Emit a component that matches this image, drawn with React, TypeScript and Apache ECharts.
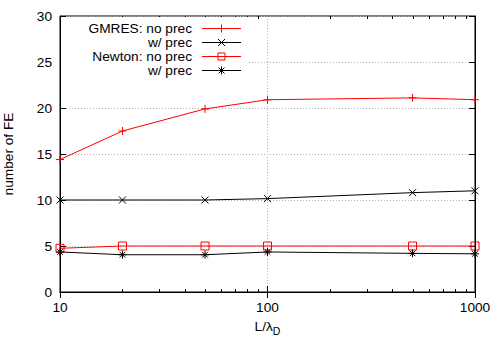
import React, { useEffect, useRef } from "react";
import * as echarts from "echarts";

const xs = [10, 20, 50, 100, 500, 1000];
const gmresNoPrec = [14.4, 17.5, 19.9, 20.9, 21.1, 20.9];
const gmresPrec = [10, 10, 10, 10.15, 10.8, 11.0];
const newtonNoPrec = [4.75, 5, 5, 5, 5, 5];
const newtonPrec = [4.35, 4.05, 4.05, 4.35, 4.2, 4.15];
const minorXs = [20, 30, 40, 50, 60, 70, 80, 90, 200, 300, 400, 500, 600, 700, 800, 900];

const seriesNames = ["GMRES: no prec", "GMRES: w/ prec", "Newton: no prec", "Newton: w/ prec"];
const legendLabels = ["GMRES: no prec", "w/ prec", "Newton: no prec", "w/ prec"];
const seriesColors = ["#ff0000", "#000000", "#ff0000", "#000000"];
const markerKinds = ["plus", "cross", "square", "star"];

const FONT = "Liberation Sans";
const FS = 13.7;
const PLUS = "path://M0,5L10,5M5,0L5,10";
const CROSS = "path://M0,0L10,10M0,10L10,0";
const STAR = "path://M0,5L10,5M5,0L5,10M1.5,1.5L8.5,8.5M1.5,8.5L8.5,1.5";

function pairs(vals: number[]) {
  return xs.map((x, i) => [x, vals[i]]);
}

function markerEls(kind: string, cx: number, cy: number, color: string) {
  const st = { stroke: color, lineWidth: 1, fill: "none" };
  const ln = (x1: number, y1: number, x2: number, y2: number) => ({ type: "line", shape: { x1, y1, x2, y2 }, style: st, z: 101 });
  const out: any[] = [];
  if (kind === "plus" || kind === "star") {
    out.push(ln(cx - 4, cy, cx + 4, cy), ln(cx, cy - 4, cx, cy + 4));
  }
  if (kind === "cross" || kind === "star") {
    const r = kind === "star" ? 3 : 3.5;
    out.push(ln(cx - r, cy - r, cx + r, cy + r), ln(cx - r, cy + r, cx + r, cy - r));
  }
  if (kind === "square") {
    out.push({ type: "rect", shape: { x: cx - 3.5, y: cy - 3.5, width: 7, height: 7 }, style: st, z: 101 });
  }
  return out;
}

export default function App() {
  const ref = useRef<HTMLDivElement>(null);
  useEffect(() => {
    if (!ref.current) return;
    const chart = echarts.init(ref.current, undefined, { renderer: "svg" });
    const mk = (name: string, vals: number[], color: string, symbol: string, size: number) => ({
      name,
      type: "line",
      data: pairs(vals),
      symbol,
      symbolSize: size,
      color,
      lineStyle: { color, width: 1 },
      itemStyle: { color: "rgba(0,0,0,0)", borderColor: color, borderWidth: 1 },
      emphasis: { disabled: true },
      z: 3,
    });

    const legendGraphics: any[] = [
      { type: "rect", shape: { x: 61, y: 17, width: 188, height: 60 }, style: { fill: "#fff" }, z: 100, silent: true },
    ];
    legendLabels.forEach((label, i) => {
      const cy = 28.5 + i * 14;
      legendGraphics.push({
        type: "text",
        x: 192,
        y: cy,
        z: 101,
        style: { text: label, fontFamily: FONT, fontSize: FS, fill: "#000", align: "right", verticalAlign: "middle" },
      });
      legendGraphics.push({
        type: "line",
        shape: { x1: 202, y1: cy, x2: 241, y2: cy },
        style: { stroke: seriesColors[i], lineWidth: 1 },
        z: 101,
      });
      legendGraphics.push(...markerEls(markerKinds[i], 221.5, cy, seriesColors[i]));
    });

    chart.setOption({
      animation: false,
      textStyle: { fontFamily: FONT },
      grid: {
        left: 60, right: 25, top: 16, bottom: 58,
        outerBoundsMode: "none",
        containLabel: false,
        show: true, borderColor: "#000", borderWidth: 1, backgroundColor: "transparent",
      },
      graphic: legendGraphics,
      xAxis: [
        {
          type: "log",
          logBase: 10,
          min: 10,
          max: 1000,
          name: "L/λ{sub|D}",
          nameLocation: "middle",
          nameGap: 25,
          nameTextStyle: {
            fontFamily: FONT,
            fontSize: FS,
            color: "#000",
            rich: { sub: { fontFamily: FONT, fontSize: 10.5, color: "#000", padding: [8, 0, 0, 0] } },
          },
          axisLine: { lineStyle: { color: "#000", width: 1 } },
          axisTick: { inside: true, length: 6, lineStyle: { color: "#000" } },
          axisLabel: { fontFamily: FONT, fontSize: FS, color: "#000", margin: 8, formatter: (v: number) => String(v) },
          splitLine: { show: true, lineStyle: { color: "#b0b0b0", type: [1, 2], width: 1 } },
          minorTick: { show: false },
        },
        {
          type: "log",
          logBase: 10,
          min: 10,
          max: 1000,
          position: "top",
          axisLine: { lineStyle: { color: "#000", width: 1 } },
          axisTick: { inside: true, length: 6, lineStyle: { color: "#000" } },
          axisLabel: { show: false },
          splitLine: { show: false },
        },
      ],
      yAxis: [
        {
          type: "value",
          min: 0,
          max: 30,
          interval: 5,
          name: "number of FE",
          nameLocation: "middle",
          nameGap: 45,
          nameTextStyle: { fontFamily: FONT, fontSize: FS, color: "#000" },
          axisLine: { show: true, lineStyle: { color: "#000", width: 1 } },
          axisTick: { show: true, inside: true, length: 6, lineStyle: { color: "#000" } },
          axisLabel: { fontFamily: FONT, fontSize: FS, color: "#000", margin: 8 },
          splitLine: { show: true, lineStyle: { color: "#b0b0b0", type: [1, 2], width: 1 } },
        },
        {
          type: "value",
          min: 0,
          max: 30,
          interval: 5,
          position: "right",
          axisLine: { show: true, lineStyle: { color: "#000", width: 1 } },
          axisTick: { show: true, inside: true, length: 6, lineStyle: { color: "#000" } },
          axisLabel: { show: false },
          splitLine: { show: false },
        },
      ],
      series: [
        mk(seriesNames[0], gmresNoPrec, seriesColors[0], PLUS, 8),
        mk(seriesNames[1], gmresPrec, seriesColors[1], CROSS, 7),
        mk(seriesNames[2], newtonNoPrec, seriesColors[2], "rect", 8),
        mk(seriesNames[3], newtonPrec, seriesColors[3], STAR, 8),
        {
          type: "custom",
          data: minorXs.map((x) => [x, 0]),
          silent: true,
          z: 2,
          renderItem: (_p: any, api: any) => {
            const b = api.coord([api.value(0), 0]);
            const t = api.coord([api.value(0), 30]);
            const x = Math.round(b[0]) + 0.5;
            return {
              type: "group",
              children: [
                { type: "line", shape: { x1: x, y1: b[1], x2: x, y2: b[1] - 3 }, style: { stroke: "#000", lineWidth: 1 } },
                { type: "line", shape: { x1: x, y1: t[1], x2: x, y2: t[1] + 3 }, style: { stroke: "#000", lineWidth: 1 } },
              ],
            };
          },
        },
      ],
    });
    return () => chart.dispose();
  }, []);
  return <div ref={ref} style={{ position: "absolute", left: 0, top: 0, width: 500, height: 350 }} />;
}
